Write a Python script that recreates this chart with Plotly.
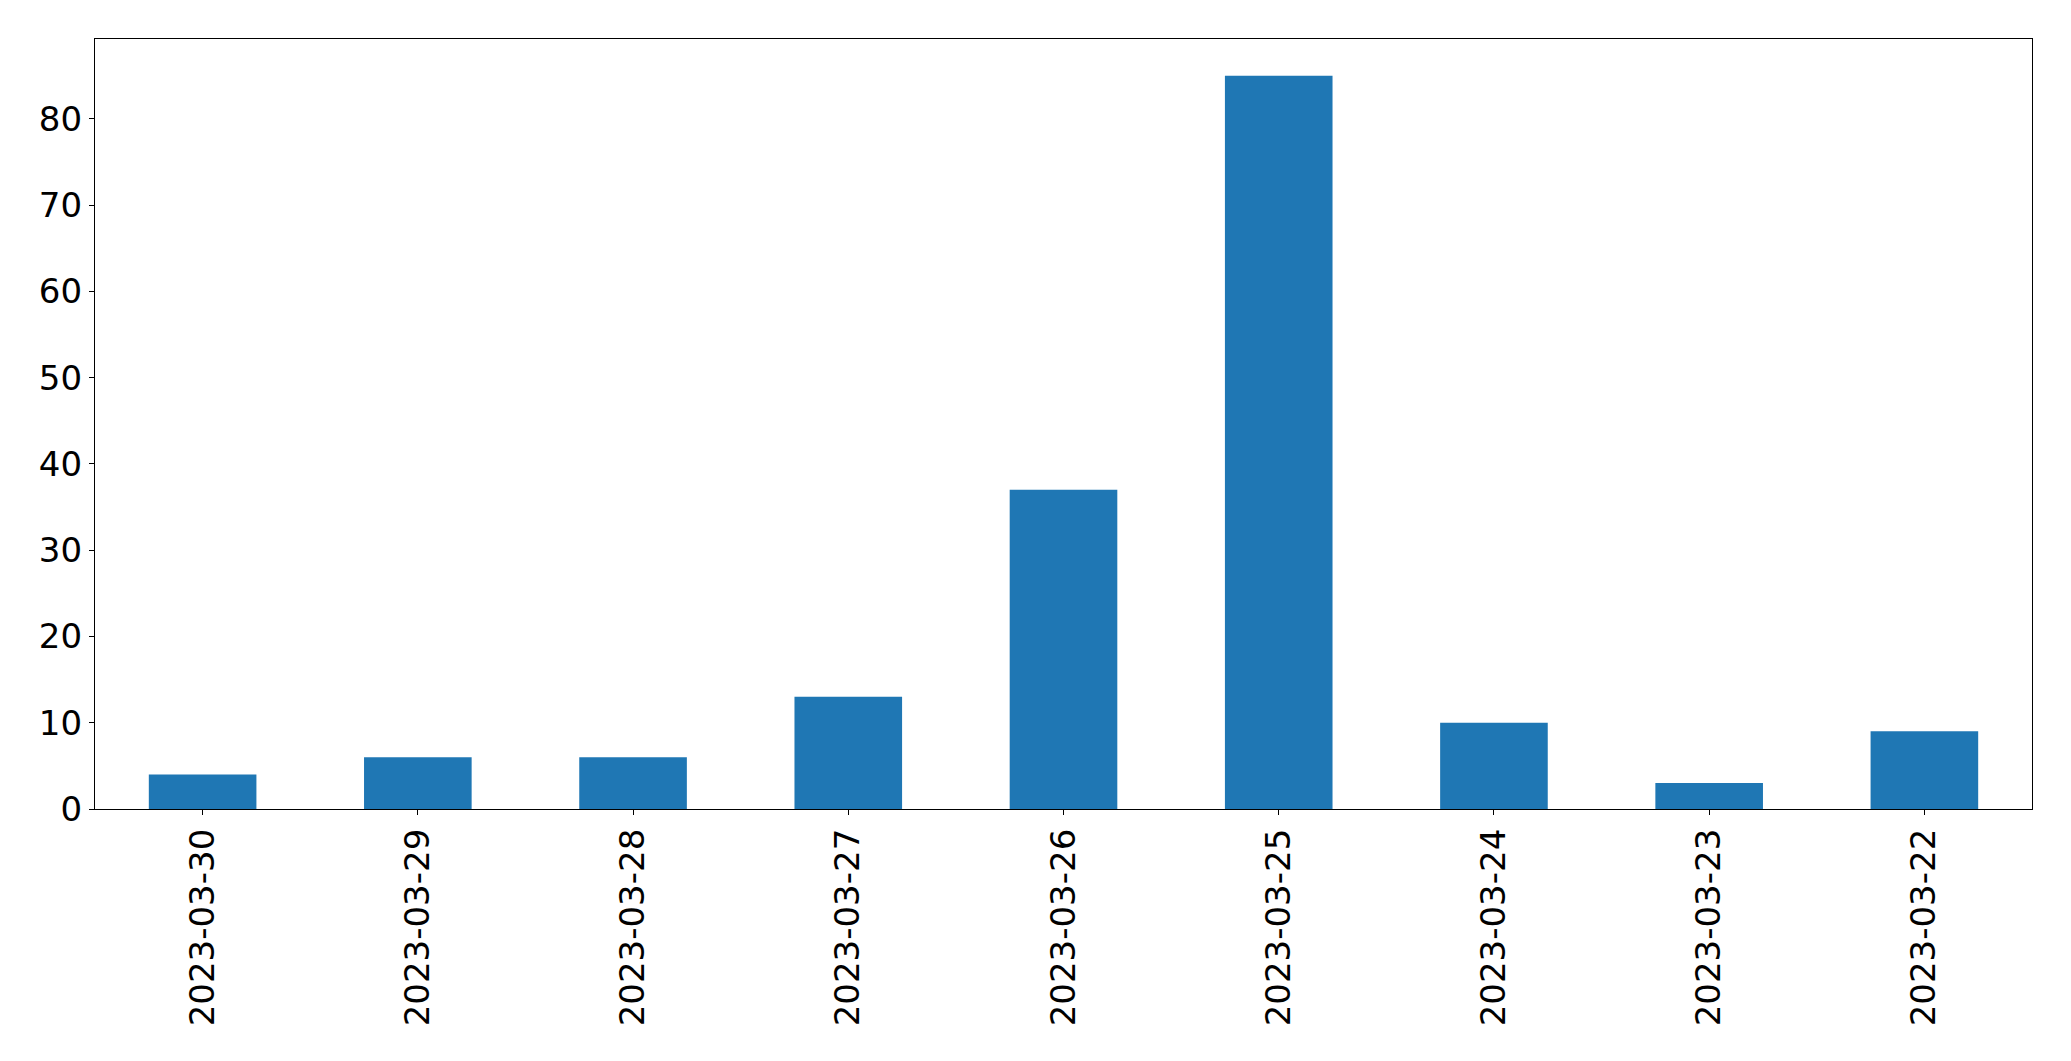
import plotly.graph_objects as go

dates = ["2023-03-30", "2023-03-29", "2023-03-28", "2023-03-27", "2023-03-26",
         "2023-03-25", "2023-03-24", "2023-03-23", "2023-03-22"]
counts = [4, 6, 6, 13, 37, 85, 10, 3, 9]
y_ticks = [0, 10, 20, 30, 40, 50, 60, 70, 80]

fig = go.Figure(go.Bar(x=dates, y=counts, marker_color="#1f77b4",
                       marker_line_width=0, width=0.5))

font = dict(family="DejaVu Sans", size=34, color="black")
axis_common = dict(showline=True, linecolor="black", linewidth=1.3, mirror=True,
                   ticks="outside", ticklen=5, tickwidth=1.3, tickcolor="black",
                   showgrid=False, zeroline=False, tickfont=font)

# page body has an 8px default margin; figure is sized/offset to compensate
fig.update_layout(
    width=2055, height=1045,
    margin=dict(l=87, r=31, t=31, b=244, pad=0),
    plot_bgcolor="white", paper_bgcolor="white",
    showlegend=False,
    xaxis=dict(type="category", range=[-0.5, 8.5], tickangle=-90, **axis_common),
    yaxis=dict(range=[0, 89.25], tickvals=y_ticks, **axis_common),
)

fig.write_html("out.html")
